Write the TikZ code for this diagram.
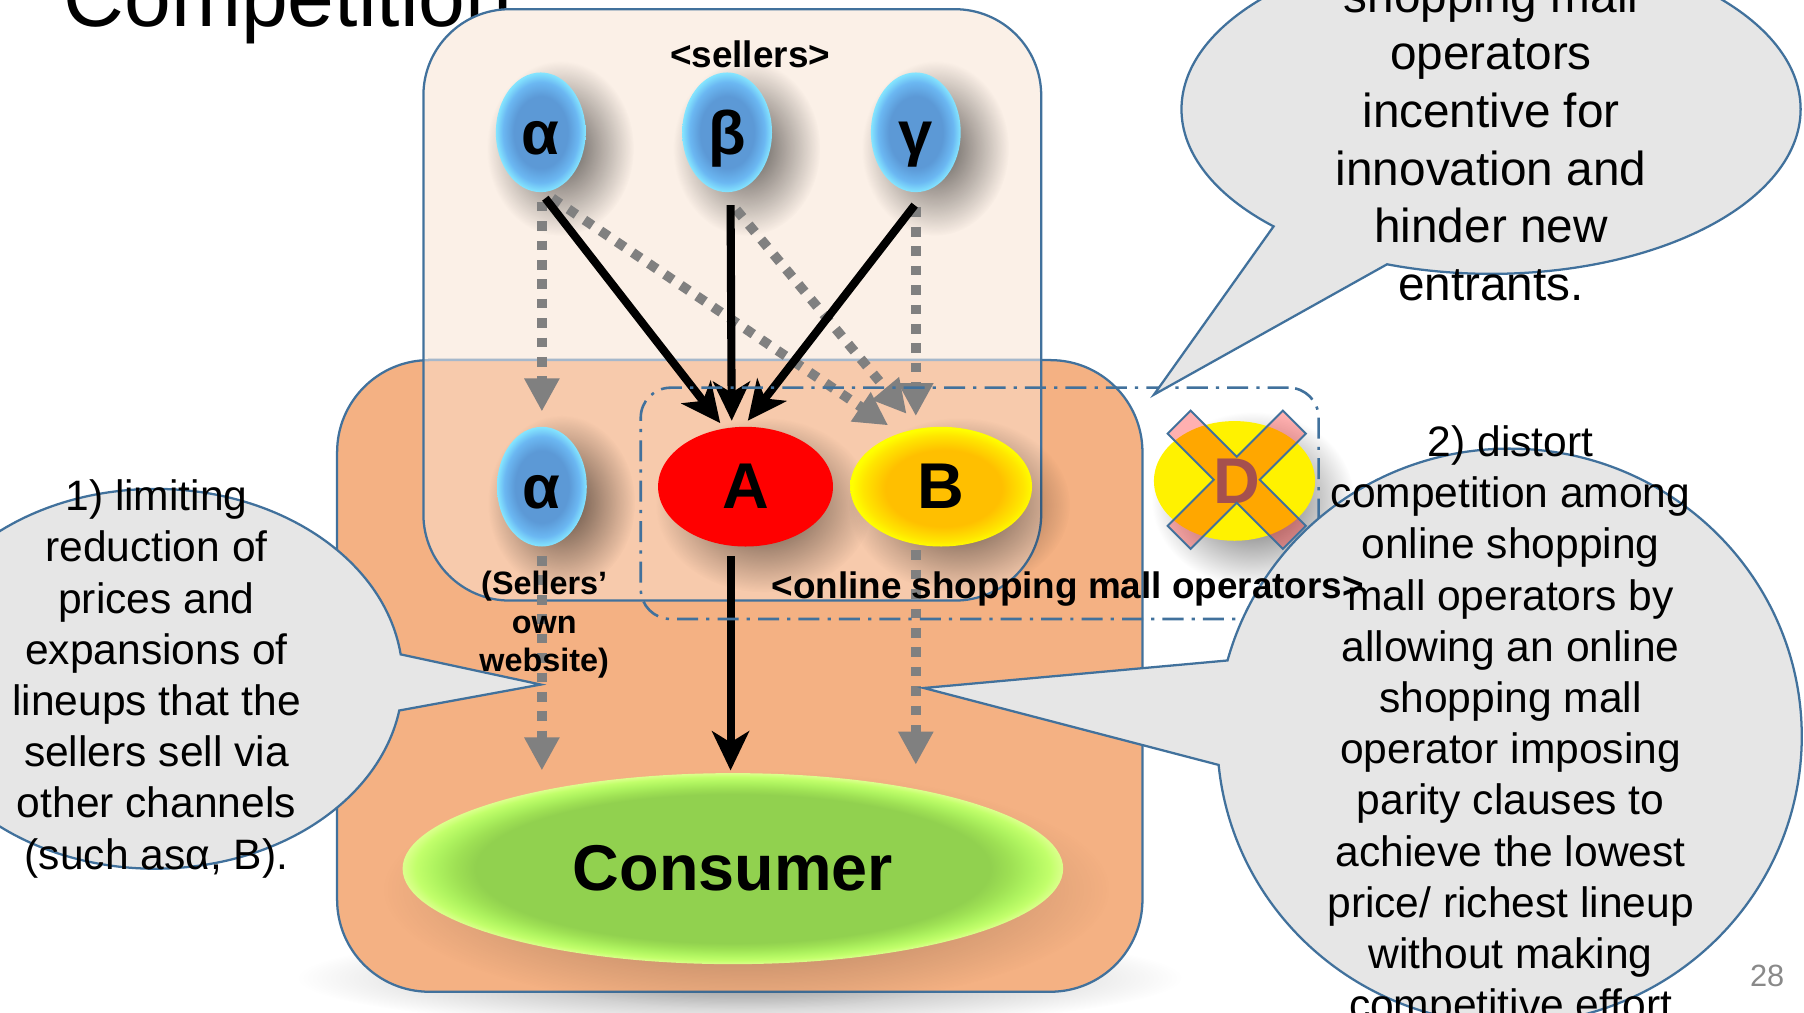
\documentclass[tikz,border=0pt]{standalone}
\usepackage{fontspec}
\setmainfont{Liberation Sans}
\usetikzlibrary{arrows.meta,shapes.geometric,shapes.callouts,calc,fadings}

\definecolor{edgeblue}{RGB}{65,113,156}
\definecolor{paleedge}{RGB}{165,184,204}
\definecolor{linenfill}{RGB}{251,240,231}
\definecolor{peach}{RGB}{244,177,131}
\definecolor{peachlight}{RGB}{247,202,172}
\definecolor{bubblegray}{RGB}{230,230,230}
\definecolor{dashgray}{RGB}{128,128,128}
\definecolor{pagegray}{RGB}{137,137,137}
\definecolor{dimgrayD}{RGB}{125,116,114}

% radial fills: the path's box covers the inner 25bp of each shading
\pgfdeclareradialshading{sellerball}{\pgfpoint{0bp}{0bp}}{rgb(0bp)=(0.36,0.60,0.84); rgb(15bp)=(0.36,0.60,0.84); rgb(21bp)=(0.42,0.72,0.95); rgb(25bp)=(0.52,0.90,1); rgb(50bp)=(0.52,0.90,1)}
\pgfdeclareradialshading{mallBshade}{\pgfpoint{1bp}{-1bp}}{rgb(0bp)=(1,0.75,0); rgb(16bp)=(1,0.75,0); rgb(22bp)=(1,0.9,0); rgb(25bp)=(1,1,0); rgb(50bp)=(1,1,0)}
\pgfdeclareradialshading{consumerlens}{\pgfpoint{0bp}{0bp}}{rgb(0bp)=(0.57,0.82,0.31); rgb(19.5bp)=(0.57,0.82,0.31); rgb(21bp)=(0.62,0.88,0.33); rgb(22.5bp)=(0.68,0.95,0.37); rgb(24bp)=(0.76,1,0.42); rgb(25bp)=(0.86,1,0.55); rgb(50bp)=(0.86,1,0.55)}

% soft shadows
\tikzfading[name=shadowfade, inner color=transparent!35, outer color=transparent!100]
\tikzfading[name=lightfade, inner color=transparent!62, outer color=transparent!100]

\begin{document}
\begin{tikzpicture}[x=0.025cm, y=-0.025cm,
  nodeshadow/.style={fill=black, path fading=shadowfade},
  softshadow/.style={fill=black, path fading=lightfade},
  seller/.style={ellipse, inner sep=0pt, minimum width=1.95cm, minimum height=2.6cm,
    shade, shading=sellerball, font=\fontsize{38pt}{40pt}\selectfont\bfseries,
    text height=27pt, text depth=0pt},
  mallA/.style={ellipse, inner sep=0pt, minimum width=3.8cm, minimum height=2.6cm, fill=red,
    font=\fontsize{40pt}{42pt}\selectfont\bfseries},
  mallB/.style={ellipse, inner sep=0pt, minimum width=3.95cm, minimum height=2.6cm,
    shade, shading=mallBshade, font=\fontsize{40pt}{42pt}\selectfont\bfseries},
  mallD/.style={ellipse, inner sep=0pt, minimum width=3.5cm, minimum height=2.6cm, fill=yellow},
  consumer/.style={ellipse, inner sep=0pt, minimum width=14.35cm, minimum height=4.15cm,
    shade, shading=consumerlens, font=\fontsize{40pt}{42pt}\selectfont\bfseries},
  blk/.style={line width=5pt, -{Stealth[length=0.85cm, width=0.8cm, inset=0.24cm]}},
  gry/.style={dashgray, line width=6pt, dash pattern=on 6pt off 6pt, -{Triangle[length=0.72cm, width=0.72cm]}},
  opbox/.style={draw=edgeblue, line width=1.6pt, rounded corners=0.65cm,
    dash pattern=on 13pt off 5pt on 2pt off 5pt, minimum width=14.725cm, minimum height=5.025cm, inner sep=0pt},
  bubble/.style={ellipse callout, draw=edgeblue, line width=1.4pt, fill=bubblegray, inner sep=0pt},
  ctext/.style={align=center, inner sep=0pt, font=\fontsize{26.3pt}{31.65pt}\selectfont},
  ttext/.style={align=center, inner sep=0pt, font=\fontsize{29.5pt}{35.6pt}\selectfont},
  lbl/.style={inner sep=0pt, font=\fontsize{22.8pt}{25pt}\selectfont\bfseries},
  smalllbl/.style={align=center, inner sep=0pt, font=\fontsize{20pt}{23.8pt}\selectfont\bfseries}
]
\useasboundingbox (0,0) rectangle (1568,880);
\clip (0,0) rectangle (1568,880);

% slide title
\node[anchor=base west, inner sep=0pt, font=\fontsize{52pt}{60pt}\selectfont] (title) at (55,23) {Competition};

% seller region and market region
\fill[softshadow] (643,850) ellipse [x radius=9.6cm, y radius=1.1cm];
\fill[linenfill, rounded corners=1.875cm] (368,8) rectangle (905,522);
\fill[peach, rounded corners=2cm] (293,313) rectangle (993,862);
\draw[edgeblue, line width=1.4pt, rounded corners=2cm] (293,313) rectangle (993,862);
\begin{scope}
  \clip[rounded corners=1.875cm] (368,8) rectangle (905,522);
  \fill[peachlight, rounded corners=2cm] (293,313) rectangle (993,862);
  \draw[paleedge, line width=1.4pt, rounded corners=2cm] (293,313) rectangle (993,862);
\end{scope}
\draw[edgeblue, line width=1.4pt, rounded corners=1.875cm] (368,8) rectangle (905,522);

% actor positions
\coordinate (pC) at (637,755);
\coordinate (pA) at (648,423);
\coordinate (pB) at (818,423);
\coordinate (pD) at (1073,418);
\coordinate (paT) at (470,115);
\coordinate (pbT) at (632,115);
\coordinate (pgT) at (796,115);
\coordinate (paL) at (471,423);

% shadows under the actors
\fill[softshadow] ($(pC)+(12,18)$) ellipse [x radius=7.9cm, y radius=2.6cm];
\foreach \p in {paT,pbT,pgT,paL}
  \fill[nodeshadow] ($(\p)+(17,14)$) ellipse [x radius=1.6cm, y radius=1.9cm];
\fill[nodeshadow] ($(pA)+(16,16)$) ellipse [x radius=2.35cm, y radius=1.9cm];
\fill[nodeshadow] ($(pB)+(16,16)$) ellipse [x radius=2.4cm, y radius=1.9cm];
\fill[nodeshadow] ($(pD)+(16,16)$) ellipse [x radius=2.2cm, y radius=1.9cm];

% actors
\node[consumer] (C) at (pC) {Consumer};
\node[mallA] (A) at (pA) {A};
\node[mallB] (B) at (pB) {B};
\node[mallD] (D) at (pD) {};
\node[seller] (aT) at (paT) {α};
\node[seller] (bT) at (pbT) {β};
\node[seller] (gT) at (pgT) {γ};
\node[seller] (aL) at (paL) {α};

% sales channels
\draw[gry] ($(aT.south)+(1,8)$) -- ($(aL.north)+(0,-13)$);
\draw[gry] ($(aT.south)+(10,5)$) -- ($(B.north)+(-46,-1)$);
\draw[gry] ($(bT.south)+(8,15)$) -- ($(B.north)+(-30,-11)$);
\draw[gry] ($(gT.south)+(0,13)$) -- ($(B.north)+(-22,-9)$);
\draw[gry] ($(aL.south)+(0,8)$) -- ($(C.north)+(-166,-2)$);
\draw[gry] ($(B.south)+(-22,3)$) -- ($(C.north)+(159,-7)$);
\draw[blk] ($(aT.south)+(4,5)$) -- ($(A.north)+(-22,-3)$);
\draw[blk] ($(bT.south)+(3,11)$) -- ($(A.north)+(-12,-5)$);
\draw[blk] ($(gT.south)+(-1,11)$) -- ($(A.north)+(2,-5)$);
\draw[blk] ($(A.south)+(-13,8)$) -- ($(C.north)+(-2,-2)$);

% excluded operator D, crossed out
\node[inner sep=0pt, font=\fontsize{40pt}{42pt}\selectfont\bfseries, text=dimgrayD] (Dlabel) at ($(D.center)+(2,0)$) {D};
\draw[shift={(D.center)}, shift={(2,-1)}, edgeblue, line width=1.2pt, fill=red, fill opacity=0.31]
  (20,0) -- (60.1,40.1) -- (40.1,60.1) -- (0,20) -- (-40.1,60.1) -- (-60.1,40.1)
  -- (-20,0) -- (-60.1,-40.1) -- (-40.1,-60.1) -- (0,-20) -- (40.1,-60.1) -- (60.1,-40.1) -- cycle;

% group of mall operators
\node[opbox] (grp) at (851.5,437.5) {};

% speech bubbles
\coordinate (tipTR) at (1003,343);
\coordinate (tipL) at (470,595);
\coordinate (tipR) at (803,598);
\node[bubble, minimum width=13.45cm, minimum height=7.15cm, callout absolute pointer={(tipTR)}, callout pointer arc=25] (cTR) at (1296,95) {};
\node[bubble, minimum width=10.75cm, minimum height=8.25cm, callout absolute pointer={(tipL)}, callout pointer arc=17] (cL) at (135,590) {};
\node[bubble, minimum width=12.7cm, minimum height=12.5cm, callout absolute pointer={(tipR)}, callout pointer arc=21] (cR) at (1312,640) {};

\node[ttext] (tTR) at (1296,121) {shopping mall\\operators\\incentive for\\innovation and\\hinder new\\entrants.};
\node[ctext] (tL) at (136,590) {1) limiting\\reduction of\\prices and\\expansions of\\lineups that the\\sellers sell via\\other channels\\(such asα, B).};
\node[ctext] (tR) at (1313,632) {2) distort\\competition among\\online shopping\\mall operators by\\allowing an online\\shopping mall\\operator imposing\\parity clauses to\\achieve the lowest\\price/ richest lineup\\without making\\competitive effort};

% group labels
\node[lbl] (sellers) at (652,47) {<sellers>};
\node[smalllbl] (own) at (473,543) {(Sellers’\\own\\website)};
\node[lbl] (malls) at (928,512) {<online shopping mall operators>};
\node[inner sep=0pt, font=\fontsize{19pt}{20pt}\selectfont, text=pagegray] (pg) at (1536,848) {28};
\end{tikzpicture}
\end{document}
